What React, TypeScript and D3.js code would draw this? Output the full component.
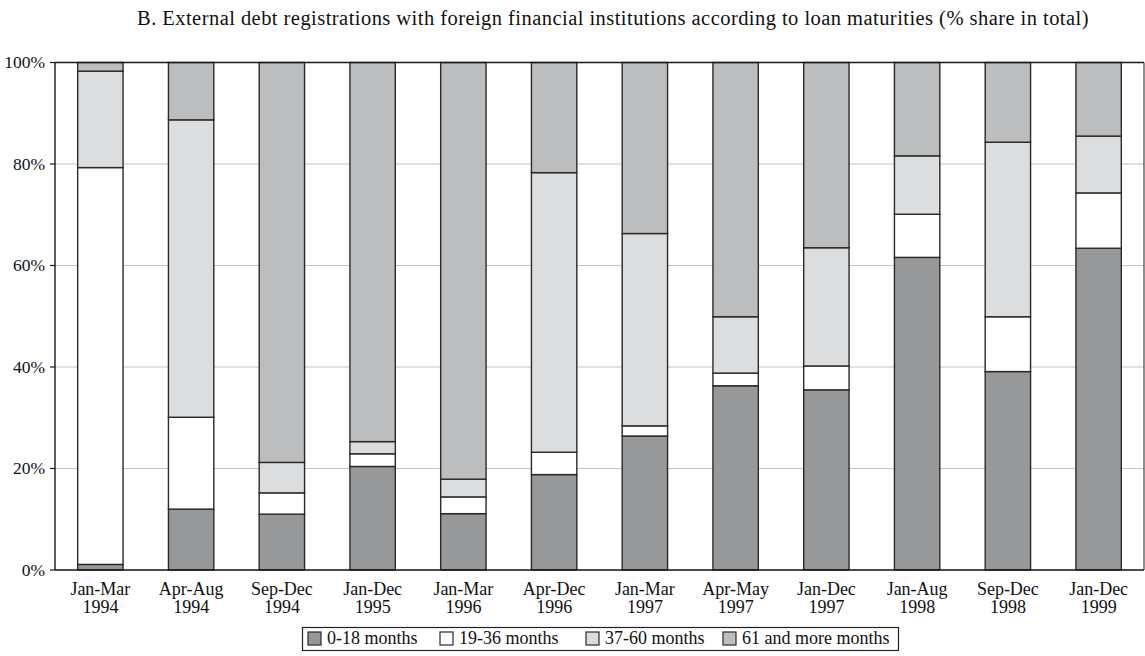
import React from "react";
import * as d3 from "d3";

const periods = ["Jan-Mar", "Apr-Aug", "Sep-Dec", "Jan-Dec", "Jan-Mar", "Apr-Dec", "Jan-Mar", "Apr-May", "Jan-Dec", "Jan-Aug", "Sep-Dec", "Jan-Dec"];
const years = ["1994", "1994", "1994", "1995", "1996", "1996", "1997", "1997", "1997", "1998", "1998", "1999"];

const m0_18 = [1.1, 12.0, 11.0, 20.4, 11.1, 18.8, 26.4, 36.3, 35.5, 61.6, 39.1, 63.4];
const m19_36 = [78.2, 18.1, 4.2, 2.5, 3.3, 4.4, 2.0, 2.5, 4.7, 8.5, 10.8, 10.9];
const m37_60 = [19.0, 58.6, 6.0, 2.4, 3.5, 55.1, 37.9, 11.1, 23.3, 11.5, 34.4, 11.2];
const m61plus = [1.7, 11.3, 78.8, 74.7, 82.1, 21.7, 33.7, 50.1, 36.5, 18.4, 15.7, 14.5];

const seriesNames = ["0-18 months", "19-36 months", "37-60 months", "61 and more months"];
const seriesColors = ["#97989a", "#ffffff", "#dcdddf", "#bcbdbf"];
const yTicks = [0, 20, 40, 60, 80, 100];

const title = "B. External debt registrations with foreign financial institutions according to loan maturities (% share in total)";

const W = 1145;
const H = 656;
const M = { left: 55, right: 1144, top: 62.5, bottom: 570 };
const FONT = "'Liberation Serif', 'Times New Roman', serif";

export default function App() {
  const keys = ["a", "b", "c", "d"];
  const rows = periods.map((p, i) => ({
    idx: i,
    a: m0_18[i],
    b: m19_36[i],
    c: m37_60[i],
    d: m61plus[i],
  }));
  const stack = d3.stack<any>().keys(keys);
  const stacked = stack(rows);

  const x = d3
    .scaleBand<number>()
    .domain(periods.map((_, i) => i))
    .range([M.left, M.right])
    .paddingInner(0.5)
    .paddingOuter(0.25);
  const y = d3.scaleLinear().domain([0, 100]).range([M.bottom, M.top]);

  const legendX = [308, 440, 586, 723];
  const legendY = 638.5;

  return (
    <svg width={W} height={H} style={{ position: "absolute", left: 0, top: 0, background: "#fff" }} fontFamily={FONT}>
      <text x={613} y={25} textAnchor="middle" fontSize={20.5} letterSpacing={0.45} fill="#111">
        {title}
      </text>
      {/* gridlines */}
      {yTicks.map((t) => (
        <line key={"g" + t} x1={M.left} x2={M.right} y1={y(t)} y2={y(t)} stroke="#c4c4c4" strokeWidth={1.2} />
      ))}
      {/* bars */}
      {stacked.map((layer, si) => (
        <g key={"s" + si}>
          {layer.map((d, i) => (
            <rect
              key={i}
              x={x(i)}
              width={x.bandwidth()}
              y={y(d[1])}
              height={y(d[0]) - y(d[1])}
              fill={seriesColors[si]}
              stroke="#2a2a2a"
              strokeWidth={1.4}
            />
          ))}
        </g>
      ))}
      {/* frame */}
      <line x1={M.left} x2={M.right} y1={M.top} y2={M.top} stroke="#1a1a1a" strokeWidth={1.4} />
      <line x1={M.right} x2={M.right} y1={M.top} y2={M.bottom} stroke="#444" strokeWidth={1.2} />
      <line x1={M.left} x2={M.left} y1={M.top} y2={M.bottom} stroke="#1a1a1a" strokeWidth={1.4} />
      <line x1={M.left} x2={M.right} y1={M.bottom} y2={M.bottom} stroke="#1a1a1a" strokeWidth={1.4} />
      {/* y ticks */}
      {yTicks.map((t) => (
        <g key={"t" + t}>
          <line x1={M.left - 5} x2={M.left} y1={y(t)} y2={y(t)} stroke="#1a1a1a" strokeWidth={1.2} />
          <text x={M.left - 10} y={y(t)} dy="0.33em" textAnchor="end" fontSize={17.5} fill="#111">
            {t + "%"}
          </text>
        </g>
      ))}
      {/* x labels */}
      {periods.map((p, i) => (
        <text key={"x" + i} x={(x(i) as number) + x.bandwidth() / 2} textAnchor="middle" fontSize={18} fill="#111">
          <tspan x={(x(i) as number) + x.bandwidth() / 2} y={595}>
            {p}
          </tspan>
          <tspan x={(x(i) as number) + x.bandwidth() / 2} y={613}>
            {years[i]}
          </tspan>
        </text>
      ))}
      {/* legend */}
      <rect x={302.5} y={627.5} width={596} height={23} fill="#fff" stroke="#222" strokeWidth={1.2} />
      {seriesNames.map((n, i) => (
        <g key={"l" + i}>
          <rect x={legendX[i]} y={legendY - 6.5} width={13} height={13} fill={seriesColors[i]} stroke="#2a2a2a" strokeWidth={1.2} />
          <text x={legendX[i] + 19} y={legendY} dy="0.33em" fontSize={18} fill="#111">
            {n}
          </text>
        </g>
      ))}
    </svg>
  );
}
